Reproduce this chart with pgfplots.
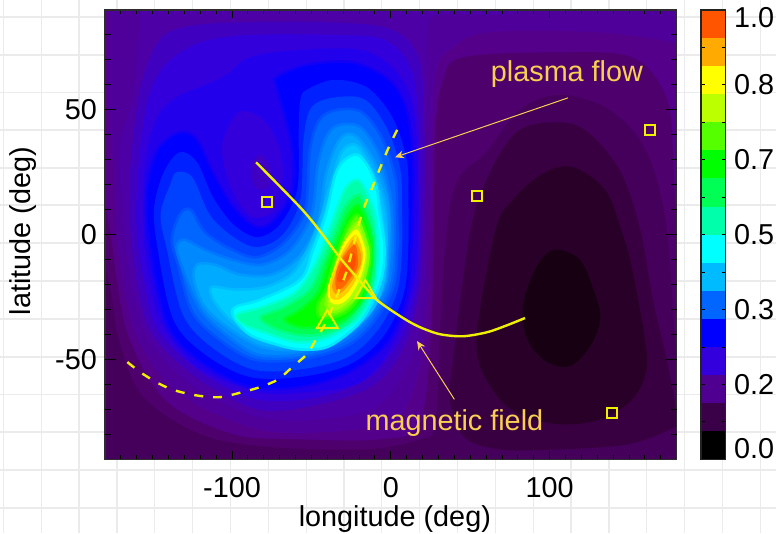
\documentclass[border=0pt]{standalone}
\usepackage{fontspec}
\setmainfont{Liberation Sans}
\usepackage{pgfplots}
\pgfplotsset{compat=1.18}
\usetikzlibrary{arrows.meta}
\newcommand{\bigf}{\fontsize{28.8}{30}\selectfont}
\newcommand{\dc}[1]{\definecolor{c#1}{HTML}{#1}}
\dc{4C00A6}\dc{50009A}\dc{54008A}\dc{4E006C}\dc{44005A}\dc{380040}\dc{280028}\dc{160012}
\dc{4000C0}\dc{3300DC}\dc{2200EC}\dc{4000C4}\dc{0000FF}\dc{0020FF}\dc{0040FF}\dc{0066FF}\dc{0088FF}\dc{00AAFF}\dc{00CCFF}\dc{00FFFF}
\dc{00FFAA}\dc{00FF55}\dc{00FF00}\dc{55FF00}\dc{AAFF00}\dc{FFFF00}\dc{FFCC00}\dc{FFAA00}\dc{FF9900}\dc{FF6600}\dc{FF5500}\dc{FF4D00}
\dc{000000}\dc{3A0048}\dc{500090}\dc{3300DD}\dc{00BBFF}\dc{BBFF00}
\newcommand{\band}[2]{\addplot[fill=c#1,draw=none,smooth cycle,tension=0.55,forget plot] coordinates {#2};}
% a band with an intermediate level along its rim
\newcommand{\bandd}[3]{\addplot[fill=c#2,draw=c#2!50!c#1,line width=2.6pt,smooth cycle,tension=0.55,forget plot] coordinates {#3};}
\newcommand{\cbar}[3]{\addplot[fill=c#1,draw=none,forget plot] coordinates {(0,#2)(1,#2)(1,#3)(0,#3)} --cycle;}
\definecolor{ann}{HTML}{F8CF52}
\definecolor{yel}{HTML}{EEF000}
\begin{document}
\begin{tikzpicture}
\useasboundingbox (0,0) rectangle (776pt,533pt);
% page grid
\begin{axis}[at={(0pt,0pt)},anchor=south west,scale only axis,width=776pt,height=533pt,
 xmin=0,xmax=776,ymin=0,ymax=533,y dir=reverse,
 xtick={3.3,41.2,79,116.9,154.7,192.6,230.4,268.3,306.1,344,381.8,419.7,457.5,495.4,533.2,571,608.9,646.8,684.6,722.5,760.3},
 ytick={17,55,92.5,130,168,205,243,281,319,357,394.5,432,470,508},
 xticklabels={},yticklabels={},grid=major,
 grid style={draw={rgb,255:red,235;green,235;blue,235},line width=1.2pt},
 tick style={draw=none},axis line style={draw=none}]
\addplot[draw=none,forget plot] coordinates {(0,0)(776,533)};
\end{axis}
% main map
\begin{axis}[at={(105pt,73.7pt)},anchor=south west,scale only axis,width=571.7pt,height=449.3pt,
 xmin=-180,xmax=180,ymin=-90,ymax=90,axis on top,
 xtick={-100,0,100},xticklabels={-100,0,100},
 minor xtick={-170,-160,...,170},ytick=\empty,
 tick align=inside,major tick length=8pt,minor tick length=4.5pt,
 tick style={black,line width=1pt},
 axis line style={draw={rgb,255:red,45;green,45;blue,45},line width=1.1pt},
 x tick label style={font=\bigf,anchor=base,yshift=-37.7pt,inner sep=0pt},
 xlabel={longitude (deg)},
 xlabel style={font=\bigf,at={(axis description cs:0.507,0)},anchor=base,yshift=-66.7pt,inner sep=0pt}]
\addplot[fill=c4C00A6,draw=none,forget plot] coordinates {(-180,-90)(180,-90)(180,90)(-180,90)} --cycle;
% depressions (descending)
\band{50009A}{(-183,92)(-160,92)(-160,70)(-163,54)(-169,41)(-171,27)(-168,2)(-163,-22)(-152,-42)(-126,-60)(-84,-73)(-45,-74)(-7,-68)(15,-46)(21,-22)(22,-2)(22,34)(23,58)(23,82)(31,88)(69,88)(182,88)(185,-92)(-183,-92)}
\band{54008A}{(-183,92)(-178,92)(-178,54)(-175,27)(-173,2)(-168,-22)(-158,-44)(-133,-64)(-84,-78)(-38,-79)(3,-74)(18,-54)(24,-22)(25,1)(26,41)(29,66)(37,74)(61,81)(132,81)(178,77)(185,74)(185,-92)(-183,-92)}
\band{4E006C}{(-186,26)(-177,2)(-172,-21)(-164,-43)(-141,-67)(-99,-80)(-57,-82)(-7,-82)(18,-76)(25,-42)(27,-2)(28,41)(33,62)(45,71)(102,73)(152,71)(174,54)(178,26)(180,2)(185,-2)(185,-92)(-183,-92)}
\band{44005A}{(-186,-2)(-177,-21)(-171,-43)(-156,-65)(-120,-80)(-78,-85)(-15,-86)(18,-82)(28,-76)(31,-38)(35,1)(42,22)(60,33)(81,50)(105,56)(132,52)(152,42)(165,27)(174,1)(180,-49)(185,-52)(185,-92)(-183,-92)}
\band{380040}{(102,45)(122,42)(144,26)(157,2)(165,-26)(175,-54)(180,-74)(176,-78)(149,-84)(107,-86)(69,-86)(46,-81)(37,-66)(39,-51)(50,1)(61,23)(79,41)}
\band{280028}{(105,27)(119,26)(136,17)(146,0)(151,-11)(159,-38)(161,-54)(152,-66)(132,-74)(107,-76)(81,-72)(64,-62)(54,-43)(66,2)(77,14)(90,22)}
\band{160012}{(105,-6)(119,-10)(127,-21)(132,-33)(127,-43)(117,-51)(108,-53)(96,-50)(86,-42)(83,-30)(88,-18)(96,-9)}
% rising outer levels
\band{4000C0}{(-147,77)(-131,83)(-99,85)(-36,85)(1,82)(18,70)(21,41)(21,14)(20,-2)(18,-22)(9,-44)(-10,-60)(-45,-68)(-84,-70)(-123,-57)(-150,-40)(-159,-22)(-164,2)(-164,27)(-158,58)}
\band{3300DC}{(-142,68)(-120,77)(-89,80)(-36,80)(-4,78)(13,66)(18,41)(18,14)(18,-2)(16,-22)(6,-42)(-13,-57)(-45,-65)(-84,-66)(-120,-55)(-147,-38)(-155,-20)(-160,2)(-159,27)(-153,54)}
\band{2200EC}{(-135,55)(-106,63)(-89,71)(-57,74)(-19,74)(1,67)(13,54)(17,31)(17,-2)(13,-24)(1,-44)(-19,-59)(-51,-63)(-84,-63)(-122,-53)(-144,-36)(-152,-18)(-156,2)(-155,27)(-148,46)}
\band{3300DC}{(-96,49)(-82,47)(-72,38)(-68,27)(-69,18)(-74,9)(-87,7)(-97,14)(-104,25)(-106,37)}
\band{4000C4}{(-82,32)(-76,27)(-76,20)(-82,18)(-87,21)(-88,28)}
% crescent
\bandd{2200EC}{0000FF}{(-72,63)(-53,68)(-24,69)(-1,62)(10,50)(14,30)(14,14)(13,-5)(10,-25)(-2,-43)(-26,-55)(-57,-61)(-89,-61)(-120,-51)(-141,-36)(-152,-5)(-154,17)(-147,34)(-133,41)(-122,38)(-112,25)(-99,11)(-84,3)(-72,7)(-62,19)(-63,37)(-72,59)}
\band{0020FF}{(-36,62)(-15,59)(1,47)(10,30)(11,14)(11,-5)(8,-24)(-5,-41)(-26,-52)(-57,-57)(-89,-57)(-117,-48)(-137,-34)(-147,-5)(-149,11)(-143,25)(-133,33)(-122,29)(-112,15)(-99,4)(-84,-1)(-70,4)(-59,18)(-58,42)(-57,54)(-53,58)}
\band{0040FF}{(-35,55)(-16,54)(-2,42)(6,26)(7,10)(7,-6)(4,-23)(-8,-38)(-27,-49)(-57,-54)(-87,-54)(-113,-45)(-131,-32)(-141,-6)(-145,8)(-139,20)(-135,25)(-125,23)(-114,8)(-99,-1)(-84,-5)(-68,0)(-57,14)(-55,38)(-50,51)}
\bandd{0040FF}{0066FF}{(-34,50)(-18,49)(-5,38)(3,22)(4,8)(4,-7)(1,-22)(-12,-36)(-29,-45)(-57,-50)(-86,-50)(-108,-42)(-125,-31)(-134,-12)(-138,-2)(-133,8)(-126,10)(-117,1)(-100,-6)(-84,-9)(-67,-3)(-54,10)(-51,34)(-45,46)}
\bandd{0066FF}{0088FF}{(-32,44)(-19,43)(-8,33)(-1,18)(1,6)(1,-7)(-2,-21)(-14,-34)(-31,-43)(-57,-48)(-84,-48)(-104,-40)(-120,-30)(-131,-14)(-135,-5)(-130,-2)(-117,-6)(-100,-10)(-81,-12)(-63,-6)(-50,8)(-46,28)(-40,40)}
\bandd{0088FF}{00AAFF}{(-29,40)(-21,39)(-11,30)(-3,16)(-1,4)(-2,-8)(-4,-20)(-15,-33)(-32,-41)(-57,-46)(-81,-45)(-101,-38)(-117,-29)(-124,-18)(-122,-12)(-111,-12)(-95,-16)(-75,-16)(-58,-9)(-46,5)(-41,24)(-35,35)}
\bandd{00AAFF}{00CCFF}{(-26,36)(-20,35)(-12,26)(-6,15)(-3,2)(-3,-8)(-5,-20)(-13,-31)(-30,-39)(-56,-44)(-79,-43)(-98,-36)(-111,-27)(-113,-21)(-98,-22)(-79,-21)(-63,-16)(-54,-8)(-45,5)(-38,20)(-32,32)}
\bandd{00CCFF}{00FFFF}{(-21,32)(-14,27)(-9,19)(-7,9)(-4,-5)(-6,-18)(-15,-31)(-24,-38)(-40,-45)(-57,-46)(-72,-44)(-89,-40)(-99,-33)(-98,-29)(-82,-26)(-57,-18)(-49,-6)(-41,8)(-35,24)(-29,30)}
\bandd{00FFFF}{00FFAA}{(-21,22)(-16,18)(-10,8)(-8,-6)(-10,-20)(-17,-31)(-27,-37)(-43,-42)(-60,-43)(-76,-40)(-93,-36)(-97,-32)(-81,-29)(-60,-23)(-48,-12)(-40,0)(-32,14)(-27,20)}
\bandd{00FFAA}{00FF55}{(-21,16)(-17,13)(-12,4)(-10,-8)(-12,-20)(-19,-29)(-29,-36)(-45,-40)(-60,-40)(-75,-37)(-82,-33)(-67,-29)(-51,-22)(-43,-11)(-36,0)(-29,11)}
\bandd{00FF55}{00FF00}{(-21,12)(-16,7)(-12,-2)(-12,-12)(-15,-22)(-21,-29)(-32,-35)(-46,-37)(-58,-37)(-67,-34)(-57,-30)(-46,-23)(-40,-12)(-33,-1)(-27,8)}
\bandd{00FF00}{55FF00}{(-21,8)(-17,3)(-13,-6)(-14,-14)(-18,-23)(-26,-30)(-35,-33)(-45,-33)(-46,-28)(-41,-22)(-37,-13)(-31,-2)(-26,5)}
\bandd{55FF00}{AAFF00}{(-21,5)(-16,-2)(-14,-8)(-16,-16)(-21,-24)(-29,-29)(-36,-31)(-41,-28)(-38,-20)(-34,-11)(-29,-2)}
\band{FFFF00}{(-21,2)(-17,-4)(-16,-9)(-19,-17)(-26,-25)(-33,-28)(-38,-27)(-40,-22)(-36,-14)(-31,-5)(-26,0)}
\band{FFCC00}{(-22,0)(-18,-6)(-18,-11)(-21,-17)(-27,-23)(-33,-26)(-38,-25)(-38,-19)(-34,-12)(-29,-5)}
\band{FF9900}{(-23,-2)(-19,-7)(-19,-12)(-23,-17)(-29,-22)(-34,-24)(-37,-21)(-35,-16)(-32,-10)(-27,-5)}
\band{FF6600}{(-23,-4)(-21,-8)(-21,-13)(-25,-17)(-30,-21)(-34,-22)(-35,-19)(-34,-14)(-30,-9)}
\band{FF4D00}{(-24,-7)(-22,-9)(-23,-13)(-27,-17)(-31,-19)(-34,-18)(-32,-14)(-28,-9)}
% field line and flow line
\addplot[yel,line width=2.4pt,smooth,forget plot] coordinates {(-84.9,29)(-57.2,11)(-44.6,1.4)(-32,-9.3)(-19.4,-18.6)(-8.7,-26.2)(7.7,-33.4)(18.4,-37.1)(31,-39.9)(45.5,-40.7)(60.6,-39.1)(73.2,-36.3)(84.5,-33.4)};
\addplot[yel,line width=2.4pt,smooth,dash pattern=on 9pt off 9.9pt,forget plot] coordinates {(4,42)(-2,34)(-11,20)(-18,9)(-23,-3)(-28,-15)(-33,-23)(-40,-34)(-48,-43)(-53,-48)(-62,-53)(-71,-58)(-82,-61)(-93,-63)(-106,-65)(-115,-65)(-126,-64)(-138,-62)(-148,-59)(-158,-55)(-166,-51)};
\addplot[only marks,mark=square,mark size=5pt,mark options={yel,line width=2pt},forget plot] coordinates {(-78,13)(54,15.5)(163,42)(139,-71.5)};
\addplot[only marks,mark=triangle,mark size=12pt,mark options={yel,line width=2pt},forget plot] coordinates {(-40,-35)(-16,-23)};
\addplot[ann,line width=1pt,-{Stealth[length=9pt,width=8pt,inset=3pt]},forget plot] coordinates {(111.6,54.8)(2.6,31)};
\addplot[ann,line width=1pt,-{Stealth[length=9pt,width=8pt,inset=3pt]},forget plot] coordinates {(40,-66)(16.5,-42.6)};
\node[ann,font=\bigf,inner sep=0pt] at (axis cs:110.9,64.4) {plasma flow};
\node[ann,font=\bigf,inner sep=0pt] at (axis cs:40,-75.5) {magnetic field};
\end{axis}
% y ticks and labels of the map
\begin{axis}[at={(105pt,73.7pt)},anchor=south west,scale only axis,width=571.7pt,height=449.3pt,
 xmin=-180,xmax=180,ymin=-90,ymax=90,xtick=\empty,
 ytick={-50,0,50},yticklabels={-50,0,50},minor ytick={-80,-70,...,80},
 tick align=inside,major tick length=11pt,minor tick length=5.7pt,
 tick style={black,line width=1pt},
 axis line style={draw=none},
 y tick label style={font=\bigf,anchor=east,xshift=-8pt,inner sep=0pt},
 ylabel={latitude (deg)},
 ylabel style={font=\bigf,at={(axis description cs:0,0.508)},anchor=base,yshift=74pt,inner sep=0pt}]
\addplot[draw=none,forget plot] coordinates {(-180,-90)(180,90)};
\end{axis}
% colour bar
\begin{axis}[at={(701pt,73.7pt)},anchor=south west,scale only axis,width=24.5pt,height=449.3pt,
 xmin=0,xmax=1,ymin=0,ymax=1,xtick=\empty,axis on top,clip=false,
 ytick={0.1667,0.3333,0.5,0.6667,0.8333},
 minor ytick={0.0833,0.25,0.4167,0.5833,0.75,0.9167},
 yticklabels={0.2,0.3,0.5,0.7,0.8},
 ytick pos=both,yticklabel pos=right,
 tick align=inside,major tick length=3.5pt,minor tick length=3.5pt,
 tick style={black,line width=0.9pt},
 axis line style={draw={rgb,255:red,35;green,35;blue,35},line width=1.1pt},
 y tick label style={font=\bigf,anchor=west,xshift=8.5pt,inner sep=0pt}]
\cbar{000000}{0}{0.0625}
\cbar{3A0048}{0.0625}{0.125}
\cbar{500090}{0.125}{0.1875}
\cbar{3300DD}{0.1875}{0.25}
\cbar{0000FF}{0.25}{0.3125}
\cbar{0066FF}{0.3125}{0.375}
\cbar{00BBFF}{0.375}{0.4375}
\cbar{00FFFF}{0.4375}{0.5}
\cbar{00FFAA}{0.5}{0.5625}
\cbar{00FF55}{0.5625}{0.625}
\cbar{00FF00}{0.625}{0.6875}
\cbar{55FF00}{0.6875}{0.75}
\cbar{BBFF00}{0.75}{0.8125}
\cbar{FFFF00}{0.8125}{0.875}
\cbar{FFAA00}{0.875}{0.9375}
\cbar{FF5500}{0.9375}{1}
\node[font=\bigf,anchor=west,inner sep=0pt,xshift=8.5pt] at (axis cs:1,0.983) {1.0};
\node[font=\bigf,anchor=west,inner sep=0pt,xshift=8.5pt] at (axis cs:1,0.023) {0.0};
\end{axis}
\end{tikzpicture}
\end{document}
